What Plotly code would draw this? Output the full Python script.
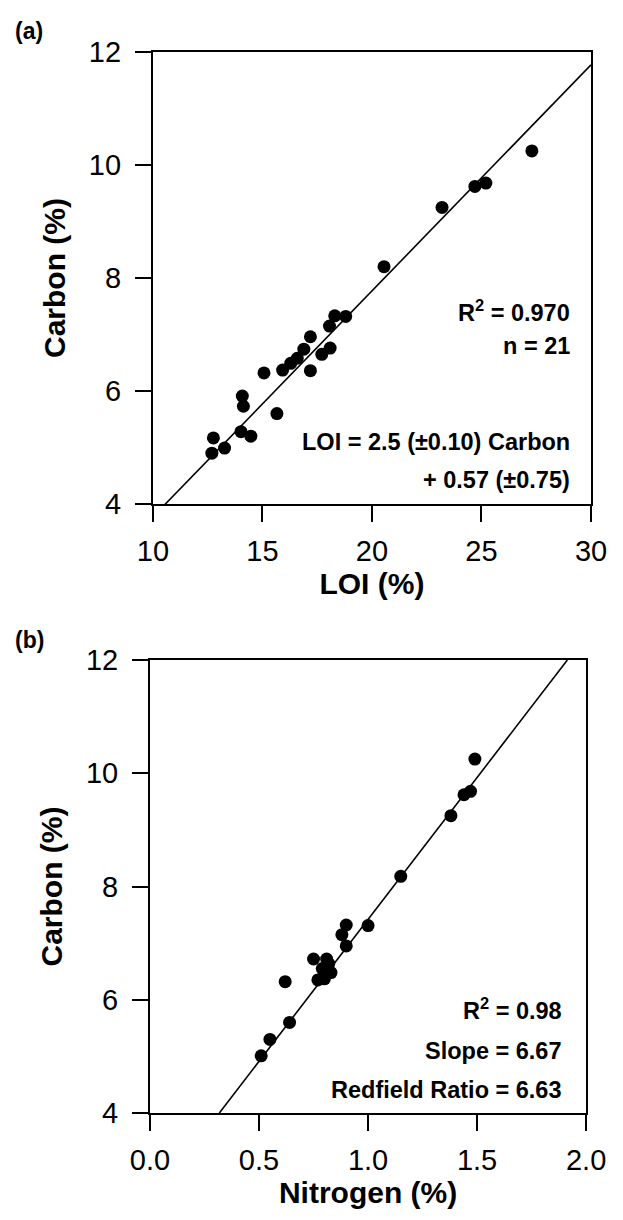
import plotly.graph_objects as go

# Panel (a): loss on ignition vs. carbon content
loi_pct = [27.3, 25.2, 24.7, 23.2, 20.55, 18.3, 18.8, 18.06, 17.19, 16.89, 16.59,
           16.29, 15.92, 15.07, 17.19, 17.71, 18.09, 14.08, 14.13, 15.66, 14.02,
           14.47, 12.76, 13.27, 12.69]
carbon_a = [10.25, 9.68, 9.62, 9.25, 8.2, 7.33, 7.32, 7.15, 6.96, 6.74, 6.58,
            6.49, 6.37, 6.32, 6.36, 6.65, 6.76, 5.91, 5.73, 5.6, 5.28,
            5.2, 5.17, 4.99, 4.9]

# Regression: LOI = 2.5 * Carbon + 0.57  ->  Carbon = (LOI - 0.57) / 2.5
loi_slope = 2.5
loi_intercept = 0.57
loi_line_x = [10, 30]

# Panel (b): nitrogen vs. carbon content
nitrogen_pct = [0.51, 0.55, 0.64, 0.62, 0.75, 0.77, 0.79, 0.80, 0.81, 0.83,
                0.82, 0.90, 0.88, 0.90, 1.00, 1.15, 1.38, 1.44, 1.47, 1.49]
carbon_b = [5.01, 5.30, 5.60, 6.32, 6.72, 6.35, 6.55, 6.37, 6.72, 6.48,
            6.64, 6.95, 7.15, 7.32, 7.31, 8.18, 9.25, 9.62, 9.68, 10.25]

# Fitted line for the C:N relation
cn_line_x = [0.318, 1.914]
cn_line_y = [4.0, 12.0]

x_ticks_a = [10, 15, 20, 25, 30]
x_ticks_b = [0.0, 0.5, 1.0, 1.5, 2.0]
y_ticks = [4, 6, 8, 10, 12]

FONT = "Liberation Sans, Arial, sans-serif"
INK = "black"

# page geometry (px)
W, H = 623, 1220
ML, MR, MT, MB = 150, 22, 52, 107
PW = W - ML - MR
PH = H - MT - MB

fig = go.Figure()

fig.add_trace(go.Scatter(
    x=loi_line_x,
    y=[(v - loi_intercept) / loi_slope for v in loi_line_x],
    mode="lines", line=dict(color=INK, width=1.6),
    xaxis="x", yaxis="y", showlegend=False, hoverinfo="skip"))
fig.add_trace(go.Scatter(
    x=loi_pct, y=carbon_a, mode="markers",
    marker=dict(color=INK, size=13, line=dict(width=0)),
    xaxis="x", yaxis="y", showlegend=False, cliponaxis=False))

fig.add_trace(go.Scatter(
    x=cn_line_x, y=cn_line_y, mode="lines", line=dict(color=INK, width=1.6),
    xaxis="x2", yaxis="y2", showlegend=False, hoverinfo="skip"))
fig.add_trace(go.Scatter(
    x=nitrogen_pct, y=carbon_b, mode="markers",
    marker=dict(color=INK, size=13, line=dict(width=0)),
    xaxis="x2", yaxis="y2", showlegend=False, cliponaxis=False))

axis_common = dict(
    showline=True, linecolor=INK, linewidth=2, mirror=True,
    ticks="outside", ticklen=16, tickwidth=1.5, tickcolor=INK,
    showgrid=False, zeroline=False,
    tickfont=dict(family=FONT, size=29, color=INK),
    title_font=dict(family=FONT, size=30, color=INK, weight="bold"),
)

fig.update_layout(
    width=W, height=H,
    margin=dict(l=ML, r=MR, t=MT, b=MB),
    paper_bgcolor="white", plot_bgcolor="white",
    font=dict(family=FONT, color=INK),
    xaxis=dict(axis_common, domain=[3 / PW, 1], anchor="y", range=[10, 30],
               tickvals=x_ticks_a, ticktext=[str(v) for v in x_ticks_a],
               ticklabelstandoff=4,
               title=dict(text="LOI (%)", standoff=6)),
    yaxis=dict(axis_common, domain=[(1113 - 504) / PH, 1], anchor="x",
               range=[4, 12], tickvals=y_ticks, ticklabelstandoff=8,
               title=dict(text="Carbon (%)", standoff=14)),
    xaxis2=dict(axis_common, domain=[0, 446 / PW], anchor="y2", range=[0, 2],
                tickvals=x_ticks_b, ticktext=[f"{v:.1f}" for v in x_ticks_b],
                ticklabelstandoff=4,
                title=dict(text="Nitrogen (%)", standoff=6)),
    yaxis2=dict(axis_common, domain=[0, (1113 - 660) / PH], anchor="x2",
                range=[4, 12], tickvals=y_ticks, ticklabelstandoff=8,
                title=dict(text="Carbon (%)", standoff=14)),
)

ann_font = dict(family=FONT, size=23.5, color=INK, weight="bold")


def stat_label(text, x, y, xref, yref):
    fig.add_annotation(text=text, x=x, y=y, xref=xref, yref=yref,
                       xanchor="right", yanchor="middle", showarrow=False,
                       font=ann_font)


stat_label("R<sup>2</sup> = 0.970", 29.15, 7.42, "x", "y")
stat_label("n = 21", 29.15, 6.8, "x", "y")
stat_label("LOI = 2.5 (±0.10) Carbon", 29.15, 5.1, "x", "y")
stat_label("+ 0.57 (±0.75)", 29.15, 4.42, "x", "y")

stat_label("R<sup>2</sup> = 0.98", 1.90, 5.84, "x2", "y2")
stat_label("Slope = 6.67", 1.90, 5.09, "x2", "y2")
stat_label("Redfield Ratio = 6.63", 1.90, 4.41, "x2", "y2")

for label, ypx in (("(a)", 31), ("(b)", 640)):
    fig.add_annotation(text=label, xref="paper", yref="paper",
                       x=(10 - ML) / PW, xanchor="left",
                       y=(H - MB - ypx) / PH, yanchor="middle",
                       showarrow=False,
                       font=dict(family=FONT, size=23, color=INK, weight="bold"))

fig.write_html("out.html")
